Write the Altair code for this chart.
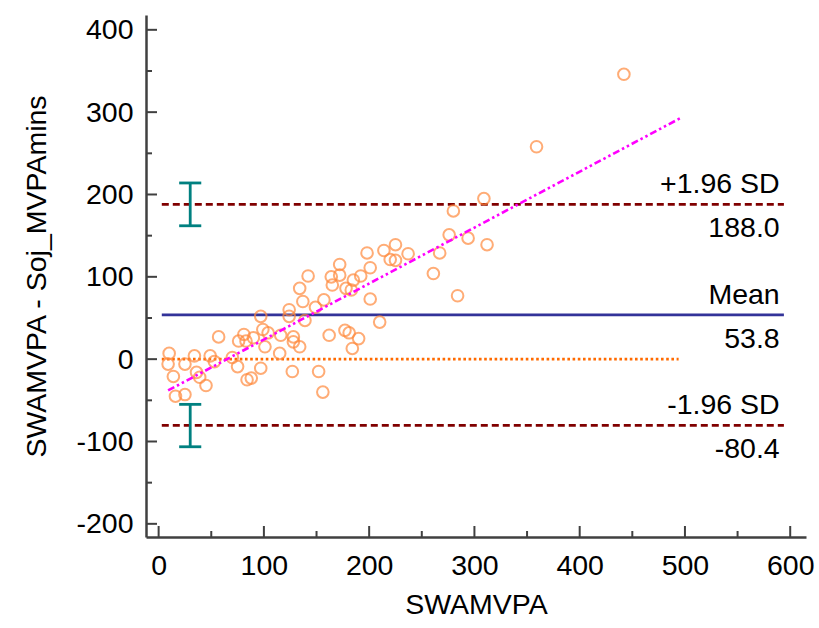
import altair as alt
import pandas as pd

# ---- data ----
swamvpa = [10, 9, 14, 16, 25, 25, 34, 36, 39, 45, 49, 53, 57, 70, 75, 76, 81, 84, 88, 83,
           90, 97, 97, 99, 104, 101, 115, 116, 124, 124, 128, 128, 127, 134, 137, 139, 142, 134,
           149, 152, 156, 157, 162, 164, 165, 172, 172, 177, 181, 178, 183, 185, 192, 184, 190,
           198, 201, 201, 210, 214, 225, 220, 225, 237, 261, 267, 276, 280, 284, 294, 309, 312,
           359, 442]
diff = [7, -6, -21, -45, -43, -6, 4, -16, -22, -32, 4, -3, 27, 2, -9, 22, 30, -25, -23, 22,
        26, 52, -11, 36, 32, 15, 7, 29, 60, 52, 27, 21, -15, 15, 70, 47, 101, 86,
        63, -15, -40, 72, 29, 100, 90, 115, 102, 35, 32, 86, 84, 96, 101, 13, 25,
        129, 111, 73, 45, 132, 139, 121, 120, 128, 104, 129, 151, 180, 77, 147, 195, 139,
        258, 346]

line_names = ["+1.96 SD", "Mean", "-1.96 SD"]
line_values = [188.0, 53.8, -80.4]
line_value_text = ["188.0", "53.8", "-80.4"]
line_x_start = 3
line_x_end = 594

zero_x = [3, 494]
reg_x = [9, 496]
reg_y = [-38, 293]

ci_x = 30
ci_low = [162, -106.4]
ci_high = [214, -54.9]
ci_half = 10.5

x_ticks = [0, 100, 200, 300, 400, 500, 600]
x_minor = [50, 150, 250, 350, 450, 550]
y_ticks = [-200, -100, 0, 100, 200, 300, 400]
y_minor = [-150, -50, 50, 150, 250, 350]

X_DOM = [-12, 615]
Y_DOM = [-216, 418]
W, H = 660, 522
FONT = "Liberation Sans"
FS = 28.5
AXC = "#404040"

xs = alt.Scale(domain=X_DOM, nice=False, zero=False)
ys = alt.Scale(domain=Y_DOM, nice=False, zero=False)

pts = pd.DataFrame({"x": swamvpa, "y": diff})

base_x = alt.X("x:Q", scale=xs,
               axis=alt.Axis(values=x_ticks, tickSize=0, labelPadding=14, grid=False,
                             labelExpr="'' + datum.value",
                             title="SWAMVPA", titleFontSize=FS, titleFont=FONT,
                             titleFontWeight="normal", titleColor="black", titlePadding=11,
                             labelFont=FONT, labelFontSize=FS, labelColor="black",
                             domainColor=AXC, domainWidth=2.5, labelFlush=False))
base_y = alt.Y("y:Q", scale=ys,
               axis=alt.Axis(values=y_ticks, tickSize=0, labelPadding=13, grid=False,
                             labelExpr="'' + datum.value",
                             title="SWAMVPA - Soj_MVPAmins", titleFontSize=FS, titleFont=FONT,
                             titleFontWeight="normal", titleColor="black",
                             titleX=-101, titleY=H / 2, titleAngle=270,
                             titleBaseline="alphabetic", titleAlign="center",
                             labelFont=FONT, labelFontSize=FS, labelColor="black",
                             domainColor=AXC, domainWidth=2.5, labelFlush=False))

points = alt.Chart(pts).mark_point(shape="circle", filled=False, size=135,
                                   stroke="#FF8A3D", strokeWidth=2).encode(x=base_x, y=base_y)

# horizontal reference lines
hl = pd.DataFrame({"name": line_names, "y": line_values, "txt": line_value_text,
                   "x0": [line_x_start] * 3, "x1": [line_x_end] * 3})
sd_lines = alt.Chart(hl[hl["name"] != "Mean"]).mark_rule(
    color="#800000", strokeWidth=2.6, strokeDash=[7, 4]).encode(
    x=alt.X("x0:Q", scale=xs), x2="x1:Q", y=alt.Y("y:Q", scale=ys))
mean_line = alt.Chart(hl[hl["name"] == "Mean"]).mark_rule(
    color="#333399", strokeWidth=2.8).encode(
    x=alt.X("x0:Q", scale=xs), x2="x1:Q", y=alt.Y("y:Q", scale=ys))

zero_df = pd.DataFrame({"x0": [zero_x[0]], "x1": [zero_x[1]], "y": [0]})
zero_line = alt.Chart(zero_df).mark_rule(color="#FF6A00", strokeWidth=2.6,
                                          strokeDash=[2.6, 2.6]).encode(
    x=alt.X("x0:Q", scale=xs), x2="x1:Q", y=alt.Y("y:Q", scale=ys))

reg_df = pd.DataFrame({"x": reg_x, "y": reg_y})
reg_line = alt.Chart(reg_df).mark_line(color="#FF00FF", strokeWidth=2.6,
                                       strokeDash=[7, 3, 2.5, 3, 2.5, 3]).encode(
    x=alt.X("x:Q", scale=xs), y=alt.Y("y:Q", scale=ys))

# CI error bars
ci_df = pd.DataFrame({"x": [ci_x, ci_x], "lo": ci_low, "hi": ci_high})
ci_df["xl"] = ci_df["x"] - ci_half
ci_df["xr"] = ci_df["x"] + ci_half
ci_v = alt.Chart(ci_df).mark_rule(color="#008080", strokeWidth=2.8).encode(
    x=alt.X("x:Q", scale=xs), y=alt.Y("lo:Q", scale=ys), y2="hi:Q")
caps = pd.DataFrame({"xl": list(ci_df["xl"]) * 2, "xr": list(ci_df["xr"]) * 2,
                     "y": ci_low + ci_high})
ci_caps = alt.Chart(caps).mark_rule(color="#008080", strokeWidth=2.8).encode(
    x=alt.X("xl:Q", scale=xs), x2="xr:Q", y=alt.Y("y:Q", scale=ys))

# labels
hl["xt"] = 590
lab_above = alt.Chart(hl).mark_text(align="right", baseline="alphabetic", dy=-11,
                                    font=FONT, fontSize=FS, color="black").encode(
    x=alt.X("xt:Q", scale=xs), y=alt.Y("y:Q", scale=ys), text="name:N")
lab_below = alt.Chart(hl).mark_text(align="right", baseline="alphabetic", dy=33,
                                    font=FONT, fontSize=FS, color="black").encode(
    x=alt.X("xt:Q", scale=xs), y=alt.Y("y:Q", scale=ys), text="txt:N")

# inward ticks
xt_df = pd.DataFrame({"v": x_ticks + x_minor, "len": [11] * len(x_ticks) + [6] * len(x_minor)})
xt_df["y0"] = H
xt_df["y1"] = H - xt_df["len"]
x_tick_rules = alt.Chart(xt_df).mark_rule(color=AXC, strokeWidth=2).encode(
    x=alt.X("v:Q", scale=xs), y=alt.Y("y0:Q", scale=None), y2="y1:Q")
yt_df = pd.DataFrame({"v": y_ticks + y_minor, "len": [11] * len(y_ticks) + [6] * len(y_minor)})
yt_df["x0"] = 0
yt_df["x1"] = yt_df["len"]
y_tick_rules = alt.Chart(yt_df).mark_rule(color=AXC, strokeWidth=2).encode(
    y=alt.Y("v:Q", scale=ys), x=alt.X("x0:Q", scale=None), x2="x1:Q")

chart = alt.layer(
    zero_line, mean_line, sd_lines, ci_v, ci_caps, points, reg_line,
    lab_above, lab_below, x_tick_rules, y_tick_rules
).properties(
    width=W, height=H,
    autosize=alt.AutoSizeParams(type="none"),
    padding={"left": 146, "top": 15, "right": 13, "bottom": 91},
    background="white",
).configure_view(stroke=None)

chart.save("out.html", embed_options={"renderer": "svg", "actions": False})
